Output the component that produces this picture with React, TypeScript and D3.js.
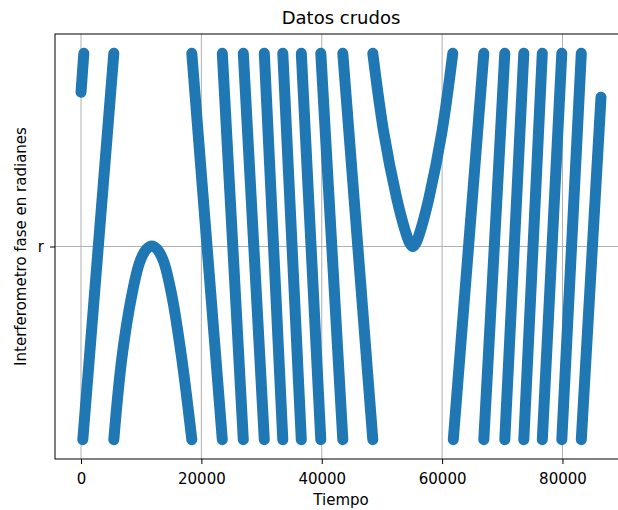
// Datos crudos: fase del interferometro (envuelta entre 0 y 2π) contra tiempo
import * as d3 from "d3";
import { useEffect, useRef } from "react";

const TAU = 2 * Math.PI;

// tramos: [tiempo, fase]
const tramoInicio: [number, number][] = [[0, 5.65], [470, TAU]];
const tramoSubida: [number, number][] = [[300, 0], [5450, TAU]];
const tramoPico: [number, number][] = [
  [5450, 0], [6780, 1.32], [8440, 2.35], [9800, 2.9], [10900, 3.1], [11760, 3.15],
  [12620, 3.1], [13720, 2.9], [15080, 2.35], [16740, 1.32], [18410, 0],
];
// cruces de fase en los tramos que bajan (arriba -> abajo)
const crucesBajada = [18410, 23477, 26967, 30456, 33530, 36604, 39844, 43499, 48484];
const tramoValle: [number, number][] = [
  [48484, TAU], [50300, 5.0], [52400, 3.95], [53800, 3.42], [54600, 3.2], [55130, 3.14],
  [55660, 3.2], [56460, 3.42], [57860, 3.95], [59960, 5.0], [61775, TAU],
];
// cruces de fase en los tramos que suben (abajo -> arriba)
const crucesSubida = [61859, 66927, 70416, 73573, 76647, 79887, 83127];
const tramoFinal: [number, number] = [86400, 5.57];

const ticksX = [0, 20000, 40000, 60000, 80000];
const ticksY = [Math.PI];
const etiquetasY = ["r"];

const W = 618;
const H = 510;
const FONT = "DejaVu Sans, sans-serif";
const AZUL = "#1f77b4";

export default function App() {
  const svgRef = useRef<SVGSVGElement>(null);

  useEffect(() => {
    const svg = d3.select(svgRef.current);
    svg.selectAll("*").remove();

    //ESCALAS (margen de 5% como matplotlib)
    const tMax = tramoFinal[0];
    const x = d3.scaleLinear().domain([-0.05 * tMax, 1.05 * tMax]).range([55, 627]);
    const y = d3.scaleLinear().domain([-0.05 * TAU, 1.05 * TAU]).range([459, 34]);
    const [x0, x1] = x.range();
    const [y1, y0] = y.range();

    //TRAMOS
    const tramos: [number, number][][] = [tramoInicio, tramoSubida, tramoPico];
    for (let i = 0; i < crucesBajada.length - 1; i++) {
      tramos.push([[crucesBajada[i], TAU], [crucesBajada[i + 1], 0]]);
    }
    tramos.push(tramoValle);
    for (let i = 0; i < crucesSubida.length; i++) {
      const fin: [number, number] = i + 1 < crucesSubida.length ? [crucesSubida[i + 1], TAU] : tramoFinal;
      tramos.push([[crucesSubida[i], 0], fin]);
    }

    //GRILLA
    const g = svg.append("g");
    g.selectAll(".gx")
      .data(ticksX)
      .enter()
      .append("line")
      .attr("x1", (d) => x(d))
      .attr("x2", (d) => x(d))
      .attr("y1", y0)
      .attr("y2", y1)
      .attr("stroke", "#b0b0b0")
      .attr("stroke-width", 1);
    g.selectAll(".gy")
      .data(ticksY)
      .enter()
      .append("line")
      .attr("x1", x0)
      .attr("x2", x1)
      .attr("y1", (d) => y(d))
      .attr("y2", (d) => y(d))
      .attr("stroke", "#b0b0b0")
      .attr("stroke-width", 1);

    //DATOS
    const linea = d3
      .line<[number, number]>()
      .x((d) => x(d[0]))
      .y((d) => y(d[1]))
      .curve(d3.curveCatmullRom);
    svg
      .append("g")
      .selectAll("path")
      .data(tramos)
      .enter()
      .append("path")
      .attr("d", (d) => linea(d))
      .attr("fill", "none")
      .attr("stroke", AZUL)
      .attr("stroke-width", 11)
      .attr("stroke-linecap", "round")
      .attr("stroke-linejoin", "round");

    //EJES
    const ejeX = svg
      .append("g")
      .attr("transform", `translate(0, ${y1})`)
      .call(d3.axisBottom(x).tickValues(ticksX).tickFormat(d3.format("d")).tickSize(5).tickSizeOuter(0).tickPadding(9));
    const ejeY = svg
      .append("g")
      .attr("transform", `translate(${x0}, 0)`)
      .call(
        d3.axisLeft(y).tickValues(ticksY).tickFormat((_, i) => etiquetasY[i]).tickSize(5).tickSizeOuter(0).tickPadding(6)
      );
    [ejeX, ejeY].forEach((e) => {
      e.select(".domain").remove();
      e.selectAll("text").attr("font-family", FONT).attr("font-size", 15).attr("fill", "#000");
      e.selectAll("line").attr("stroke", "#000");
    });

    //MARCO
    svg
      .append("rect")
      .attr("x", x0)
      .attr("y", y0)
      .attr("width", x1 - x0)
      .attr("height", y1 - y0)
      .attr("fill", "none")
      .attr("stroke", "#000")
      .attr("stroke-width", 1);

    //TEXTOS
    svg
      .append("text")
      .attr("x", (x0 + x1) / 2)
      .attr("y", 24)
      .attr("text-anchor", "middle")
      .attr("font-family", FONT)
      .attr("font-size", 18)
      .text("Datos crudos");
    svg
      .append("text")
      .attr("x", (x0 + x1) / 2)
      .attr("y", 505)
      .attr("text-anchor", "middle")
      .attr("font-family", FONT)
      .attr("font-size", 15)
      .text("Tiempo");
    svg
      .append("text")
      .attr("transform", `translate(26, ${(y0 + y1) / 2}) rotate(-90)`)
      .attr("text-anchor", "middle")
      .attr("font-family", FONT)
      .attr("font-size", 15)
      .text("Interferometro fase en radianes");
  }, []);

  return (
    <svg
      ref={svgRef}
      width={W}
      height={H}
      style={{ position: "absolute", left: 0, top: 0, background: "#fff" }}
    />
  );
}
